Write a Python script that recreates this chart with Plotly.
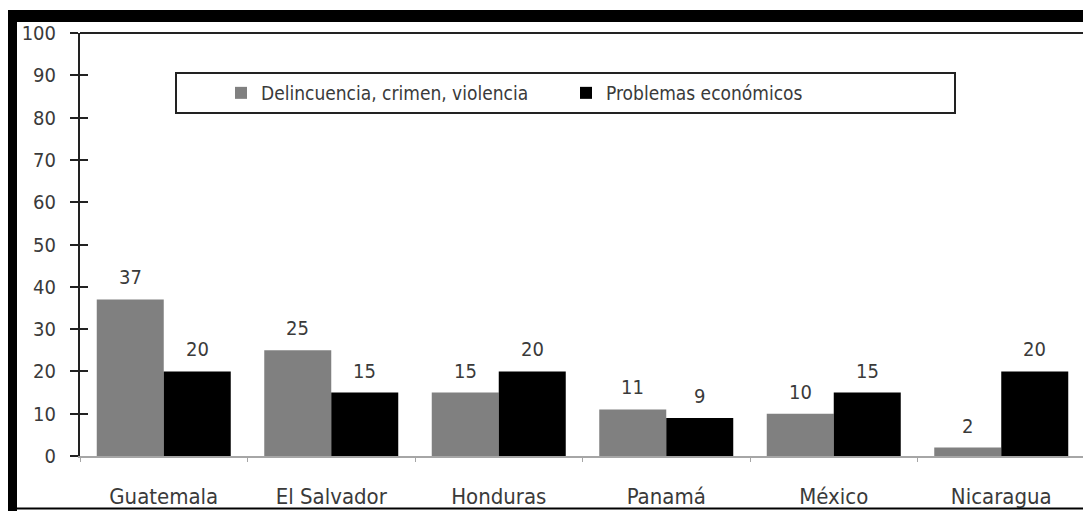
import plotly.graph_objects as go

categories = ["Guatemala", "El Salvador", "Honduras", "Panamá", "México", "Nicaragua"]
delincuencia = [37, 25, 15, 11, 10, 2]
economicos = [20, 15, 20, 9, 15, 20]
series_names = ["Delincuencia, crimen, violencia", "Problemas económicos"]
y_ticks = [0, 10, 20, 30, 40, 50, 60, 70, 80, 90, 100]

# page has an 8px body margin; figure is sized so it fills the 1091x511 window
OFF = 8
W, H = 1091 - OFF, 511 - OFF
# plot area in reference page pixels: x 80..1085, y 33..456
PL, PR, PT, PB = 80, 1085, 33, 456
L, T = PL - OFF, PT - OFF
R = W - (PR - OFF)
B = H - (PB - OFF)
pw, ph = PR - PL, PB - PT

def px(x):
    return (x - PL) / pw

def py(y):
    return (PB - y) / ph

FONT = "DejaVu Sans Condensed, DejaVu Sans"
TXT = "#3a3a3a"

fig = go.Figure()
fig.add_trace(go.Bar(x=categories, y=delincuencia, name=series_names[0],
                     marker=dict(color="#808080", line=dict(width=0))))
fig.add_trace(go.Bar(x=categories, y=economicos, name=series_names[1],
                     marker=dict(color="#000000", line=dict(width=0))))
# invisible trace carrying the inner half of the cross ticks on y2
fig.add_trace(go.Scatter(x=[categories[0]], y=[0], yaxis="y2", showlegend=False,
                         mode="markers", marker=dict(opacity=0), hoverinfo="skip"))

annotations = []
bar_half = pw / len(categories) * 0.8 / 4
for vals, sh in ((delincuencia, -bar_half), (economicos, bar_half)):
    for c, v in zip(categories, vals):
        annotations.append(dict(x=c, y=v, text=str(v), showarrow=False, xref="x", yref="y",
                                xshift=sh, yshift=8, yanchor="bottom",
                                font=dict(family=FONT, size=20, color=TXT)))

shapes = [
    # outer black frame pieces
    dict(type="rect", xref="paper", yref="paper", x0=px(0), x1=px(1091), y0=py(22), y1=py(10),
         fillcolor="black", line=dict(width=0), layer="above"),
    dict(type="rect", xref="paper", yref="paper", x0=px(0), x1=px(17), y0=py(515), y1=py(10),
         fillcolor="black", line=dict(width=0), layer="above"),
    dict(type="line", xref="paper", yref="paper", x0=px(5), x1=px(1088), y0=py(508.5), y1=py(508.5),
         line=dict(color="black", width=2)),
    # plot area top/right border
    dict(type="line", xref="paper", yref="paper", x0=0, x1=1, y0=1, y1=1,
         line=dict(color="#222222", width=2)),
    dict(type="line", xref="paper", yref="paper", x0=1, x1=1, y0=py(460), y1=1,
         line=dict(color="#222222", width=2)),
    # legend box
    dict(type="rect", xref="paper", yref="paper", x0=px(176), x1=px(955), y0=py(113), y1=py(73),
         fillcolor="white", line=dict(color="#222222", width=2), layer="below"),
]

fig.update_layout(
    width=W, height=H,
    margin=dict(l=L, r=R, t=T, b=B, autoexpand=False),
    paper_bgcolor="white", plot_bgcolor="rgba(0,0,0,0)",
    barmode="group", bargap=0.2, bargroupgap=0,
    font=dict(family=FONT, color=TXT),
    showlegend=True,
    legend=dict(orientation="h", x=px(221), y=py(93), xanchor="left", yanchor="middle",
                bgcolor="rgba(0,0,0,0)", borderwidth=0,
                font=dict(family=FONT, size=19, color=TXT),
                entrywidth=300, itemwidth=30, traceorder="normal"),
    xaxis=dict(showgrid=False, showline=True, linecolor="#a6a6a6", linewidth=2,
               ticks="outside", tickson="boundaries", ticklen=4, tickcolor="#a6a6a6",
               tickfont=dict(family=FONT, size=22, color=TXT), ticklabelstandoff=20,
               zeroline=False),
    yaxis=dict(range=[0, 100], tickvals=y_ticks, showgrid=False, showline=True,
               linecolor="#222222", linewidth=2, ticks="outside", ticklen=8,
               tickcolor="#222222", tickwidth=2, zeroline=False,
               tickfont=dict(family=FONT, size=20, color=TXT), ticklabelstandoff=10),
    yaxis2=dict(range=[0, 100], tickvals=y_ticks, overlaying="y", side="left",
                showgrid=False, showline=False, ticks="inside", ticklen=8,
                tickcolor="#222222", tickwidth=2, showticklabels=False, zeroline=False),
    shapes=shapes,
    annotations=annotations,
)

fig.write_html("out.html")
